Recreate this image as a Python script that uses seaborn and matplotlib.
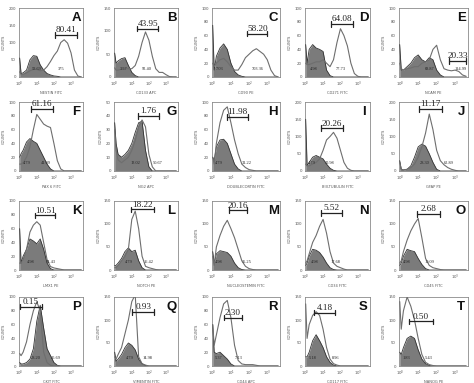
import matplotlib
matplotlib.use("Agg")
import matplotlib.pyplot as plt
import pandas as pd
import seaborn as sns

sns.set_style("white")
plt.rcParams['font.family'] = ['DejaVu Sans']

# log10 fluorescence channel grid
X = [0, 0.08, 0.2, 0.4, 0.6, 0.8, 1.0, 1.2, 1.4, 1.6, 1.8, 2.0, 2.2, 2.4, 2.6, 2.8, 3.0, 3.2, 3.4, 3.6]

letters = list("ABCDEFGHIJKLMNOPQRST")
xlabels = ["NESTIN FITC", "CD133 APC", "CD90 PE", "CD271 FITC", "NCAM PE",
           "PAX 6 FITC", "NG2 APC", "DOUBLECORTIN FITC", "BIII-TUBULIN FITC", "GFAP PE",
           "LMX1 PE", "NOTCH PE", "NUCLEOSTEMIN FITC", "CD34 FITC", "CD45 FITC",
           "CKIT FITC", "VIMENTIN FITC", "CD44 APC", "CD117 FITC", "NANOG PE"]
ymax = [200, 150, 100, 100, 100,
        100, 50, 100, 200, 200,
        100, 150, 150, 150, 150,
        100, 150, 100, 150, 150]

ctrl = {
 "A": [55, 10, 12, 20, 50, 62, 60, 35, 20, 10, 6, 3, 2, 0, 0, 0, 0, 0, 0, 0],
 "B": [52, 30, 35, 40, 42, 25, 10, 3, 0, 0, 0, 0, 0, 0, 0, 0, 0, 0, 0, 0],
 "C": [75, 10, 30, 42, 48, 40, 20, 8, 3, 1, 0, 0, 0, 0, 0, 0, 0, 0, 0, 0],
 "D": [47, 20, 40, 47, 42, 40, 37, 10, 2, 0, 0, 0, 0, 0, 0, 0, 0, 0, 0, 0],
 "E": [47, 10, 10, 15, 20, 28, 32, 25, 22, 28, 25, 10, 3, 0, 0, 0, 0, 0, 0, 0],
 "F": [20, 25, 30, 42, 47, 43, 40, 30, 20, 10, 3, 0, 0, 0, 0, 0, 0, 0, 0, 0],
 "G": [35, 20, 12, 10, 12, 15, 20, 28, 35, 36, 15, 3, 0, 0, 0, 0, 0, 0, 0, 0],
 "H": [20, 15, 35, 45, 46, 40, 25, 10, 3, 0, 0, 0, 0, 0, 0, 0, 0, 0, 0, 0],
 "I": [150, 15, 25, 40, 45, 40, 35, 20, 8, 2, 0, 0, 0, 0, 0, 0, 0, 0, 0, 0],
 "J": [30, 5, 3, 5, 15, 40, 70, 78, 72, 50, 25, 5, 0, 0, 0, 0, 0, 0, 0, 0],
 "K": [60, 10, 20, 30, 45, 42, 38, 45, 30, 10, 2, 0, 0, 0, 0, 0, 0, 0, 0, 0],
 "L": [10, 10, 15, 25, 40, 48, 40, 43, 20, 5, 0, 0, 0, 0, 0, 0, 0, 0, 0, 0],
 "M": [40, 15, 35, 42, 40, 38, 30, 15, 5, 1, 0, 0, 0, 0, 0, 0, 0, 0, 0, 0],
 "N": [10, 15, 30, 45, 43, 38, 28, 15, 5, 1, 0, 0, 0, 0, 0, 0, 0, 0, 0, 0],
 "O": [10, 15, 30, 45, 42, 40, 25, 12, 3, 0, 0, 0, 0, 0, 0, 0, 0, 0, 0, 0],
 "P": [5, 3, 3, 5, 10, 25, 65, 88, 55, 25, 15, 5, 1, 0, 0, 0, 0, 0, 0, 0],
 "Q": [30, 10, 15, 25, 40, 50, 45, 35, 15, 5, 1, 0, 0, 0, 0, 0, 0, 0, 0, 0],
 "R": [60, 20, 18, 20, 15, 10, 3, 0, 0, 0, 0, 0, 0, 0, 0, 0, 0, 0, 0, 0],
 "S": [20, 20, 30, 55, 68, 55, 40, 20, 8, 2, 0, 0, 0, 0, 0, 0, 0, 0, 0, 0],
 "T": [30, 25, 40, 60, 65, 60, 35, 15, 5, 1, 0, 0, 0, 0, 0, 0, 0, 0, 0, 0],
}
stain = {
 "A": [15, 8, 8, 12, 18, 22, 22, 18, 20, 30, 45, 62, 75, 100, 108, 98, 70, 20, 3, 0],
 "B": [20, 15, 15, 17, 18, 18, 18, 25, 45, 75, 98, 80, 45, 18, 10, 10, 5, 1, 0, 0],
 "C": [20, 15, 20, 25, 27, 22, 15, 10, 10, 18, 28, 33, 38, 41, 37, 33, 25, 10, 2, 0],
 "D": [20, 18, 18, 20, 22, 22, 25, 20, 15, 25, 50, 70, 60, 45, 20, 5, 1, 0, 0, 0],
 "E": [20, 12, 10, 12, 13, 15, 15, 20, 22, 25, 40, 46, 25, 12, 10, 9, 10, 8, 3, 1],
 "F": [10, 10, 12, 20, 35, 60, 82, 75, 68, 65, 63, 40, 15, 3, 0, 0, 0, 0, 0, 0],
 "G": [30, 15, 8, 6, 8, 10, 15, 22, 32, 37, 32, 12, 3, 0, 0, 0, 0, 0, 0, 0],
 "H": [20, 10, 40, 70, 88, 93, 70, 45, 25, 10, 5, 2, 1, 0, 0, 0, 0, 0, 0, 0],
 "I": [20, 15, 15, 20, 25, 35, 60, 90, 100, 112, 95, 60, 25, 8, 2, 0, 0, 0, 0, 0],
 "J": [25, 5, 3, 5, 10, 20, 40, 70, 110, 165, 120, 60, 30, 18, 10, 5, 2, 0, 0, 0],
 "K": [10, 10, 15, 30, 55, 65, 70, 65, 40, 15, 5, 3, 2, 1, 0, 0, 0, 0, 0, 0],
 "L": [5, 5, 10, 20, 30, 45, 110, 128, 90, 30, 8, 5, 3, 1, 0, 0, 0, 0, 0, 0],
 "M": [30, 10, 50, 75, 95, 108, 90, 70, 45, 20, 8, 3, 1, 0, 0, 0, 0, 0, 0, 0],
 "N": [15, 20, 35, 60, 75, 95, 110, 80, 40, 15, 8, 5, 2, 0, 0, 0, 0, 0, 0, 0],
 "O": [15, 20, 40, 65, 85, 100, 112, 70, 25, 10, 5, 3, 1, 0, 0, 0, 0, 0, 0, 0],
 "P": [18, 15, 20, 35, 60, 80, 93, 80, 20, 5, 1, 0, 0, 0, 0, 0, 0, 0, 0, 0],
 "Q": [20, 15, 25, 40, 70, 100, 140, 155, 20, 5, 2, 0, 0, 0, 0, 0, 0, 0, 0, 0],
 "R": [60, 30, 45, 70, 90, 95, 70, 30, 8, 3, 2, 2, 2, 1, 0, 0, 0, 0, 0, 0],
 "S": [135, 60, 90, 110, 118, 110, 80, 40, 15, 5, 2, 0, 0, 0, 0, 0, 0, 0, 0, 0],
 "T": [140, 80, 120, 150, 130, 100, 60, 25, 8, 3, 1, 0, 0, 0, 0, 0, 0, 0, 0, 0],
}

gate_pct = ["80.41", "43.95", "58.20", "64.08", "20.33",
            "61.16", "1.76", "11.98", "20.26", "11.17",
            "10.51", "18.22", "20.16", "5.52", "2.68",
            "0.15", "0.93", "2.30", "4.18", "0.50"]
gate_lo = [2.05, 1.3, 1.9, 1.46, 2.65, 0.66, 1.34, 0.8, 0.86, 1.06,
           0.92, 0.96, 0.9, 0.86, 0.96, 0.04, 1.04, 0.6, 0.46, 0.5]
gate_hi = [3.37, 2.55, 3.0, 2.74, 3.6, 1.94, 2.58, 1.95, 2.14, 2.3,
           2.08, 2.3, 1.9, 2.1, 2.2, 1.3, 2.3, 1.63, 1.7, 1.78]
gate_y = [122, 105, 63, 77, 23, 90, 40, 78, 124, 180,
          79, 132, 130, 124, 122, 86, 117, 70, 116, 97]

mfi_ctrl = ["53.69", "3.57", "7.03", "4.98", "68.87", "4.79", "13.02", "4.79", "4.79", "28.30",
            "4.98", "4.79", "4.98", "4.98", "4.98", "28.20", "4.79", "5.37", "5.18", "1.83"]
mfi_stain = ["375", "92.40", "703.36", "77.73", "114.99", "41.09", "50.67", "31.22", "30.98", "62.89",
             "14.43", "16.42", "36.25", "17.68", "10.09", "25.69", "14.98", "7.13", "8.96", "5.43"]
mfi_ctrl_x = [1.0, 0.5, 0.35, 0.45, 1.6, 0.4, 1.24, 0.35, 0.35, 1.36,
              0.67, 0.8, 0.35, 0.5, 0.4, 0.94, 0.9, 0.3, 0.4, 0.34]
mfi_stain_x = [2.4, 1.9, 2.5, 2.0, 3.3, 1.5, 2.5, 1.9, 1.4, 2.66,
               1.83, 2.0, 1.85, 1.7, 1.6, 2.1, 1.9, 1.4, 1.7, 1.54]

# layout (pixels)
W, H = 474, 383
col_left = [19, 114, 212, 305, 399]
col_w = [64, 64, 68, 65, 69]
row_top = [8, 102, 201, 297]
row_h = 69

fig = plt.figure(figsize=(W / 100, H / 100), dpi=100)
fig.patch.set_facecolor("white")

FILL = "#7b7b7b"
EDGE = "#333333"
OPEN = "#6e6e6e"

for i, L in enumerate(letters):
    r, c = divmod(i, 5)
    ax = fig.add_axes([col_left[c] / W, 1 - (row_top[r] + row_h) / H, col_w[c] / W, row_h / H])
    df = pd.DataFrame({"x": X, "ctrl": ctrl[L], "stain": stain[L]})
    ym = ymax[i]
    ax.fill_between(df["x"], df["stain"], color="white", zorder=1)
    ax.fill_between(df["x"], df["ctrl"], color=FILL, zorder=2, lw=0)
    sns.lineplot(data=df, x="x", y="ctrl", ax=ax, color=EDGE, lw=0.6, estimator=None, zorder=3)
    sns.lineplot(data=df, x="x", y="stain", ax=ax, color=OPEN, lw=0.8, estimator=None, zorder=4)
    ax.set_xlim(-0.04, 3.7)
    ax.set_ylim(0, ym)
    step = 50 if ym >= 150 else (20 if ym == 100 else 10)
    ax.set_yticks(list(range(0, ym + 1, step)))
    ax.set_xticks([0, 1, 2, 3])
    ax.set_xticklabels([r"$10^0$", r"$10^1$", r"$10^2$", r"$10^3$"])
    ax.tick_params(labelsize=2.8, length=1.2, width=0.4, pad=1, colors="#555")
    ax.set_xlabel(xlabels[i], fontsize=2.6, labelpad=1.5, color="#555")
    ax.set_ylabel("COUNTS", fontsize=2.6, labelpad=2, color="#555")
    for s in ax.spines.values():
        s.set_color("#8a8a8a")
        s.set_linewidth(0.6)
    gy = gate_y[i]
    ax.plot([gate_lo[i], gate_hi[i]], [gy, gy], color="#222", lw=0.9, zorder=5)
    for gx in (gate_lo[i], gate_hi[i]):
        ax.plot([gx, gx], [gy - ym * 0.04, gy + ym * 0.04], color="#222", lw=0.9, zorder=5)
    ax.text((gate_lo[i] + gate_hi[i]) / 2, gy + ym * 0.01, gate_pct[i], ha="center", va="bottom",
            fontsize=6.6, family="Liberation Serif", color="#222", zorder=6)
    ax.text(0.9, 0.85, L, transform=ax.transAxes, ha="center", va="center",
            fontsize=9.5, fontweight="bold", family="Liberation Sans", color="#111")
    ax.text(mfi_ctrl_x[i], ym * 0.12, mfi_ctrl[i], ha="center", va="center",
            fontsize=3.2, family="Liberation Serif", color="#222", zorder=6)
    ax.text(mfi_stain_x[i], ym * 0.12, mfi_stain[i], ha="center", va="center",
            fontsize=3.2, family="Liberation Serif", color="#222", zorder=6)

fig.savefig("out.png", dpi=100, facecolor="white")
